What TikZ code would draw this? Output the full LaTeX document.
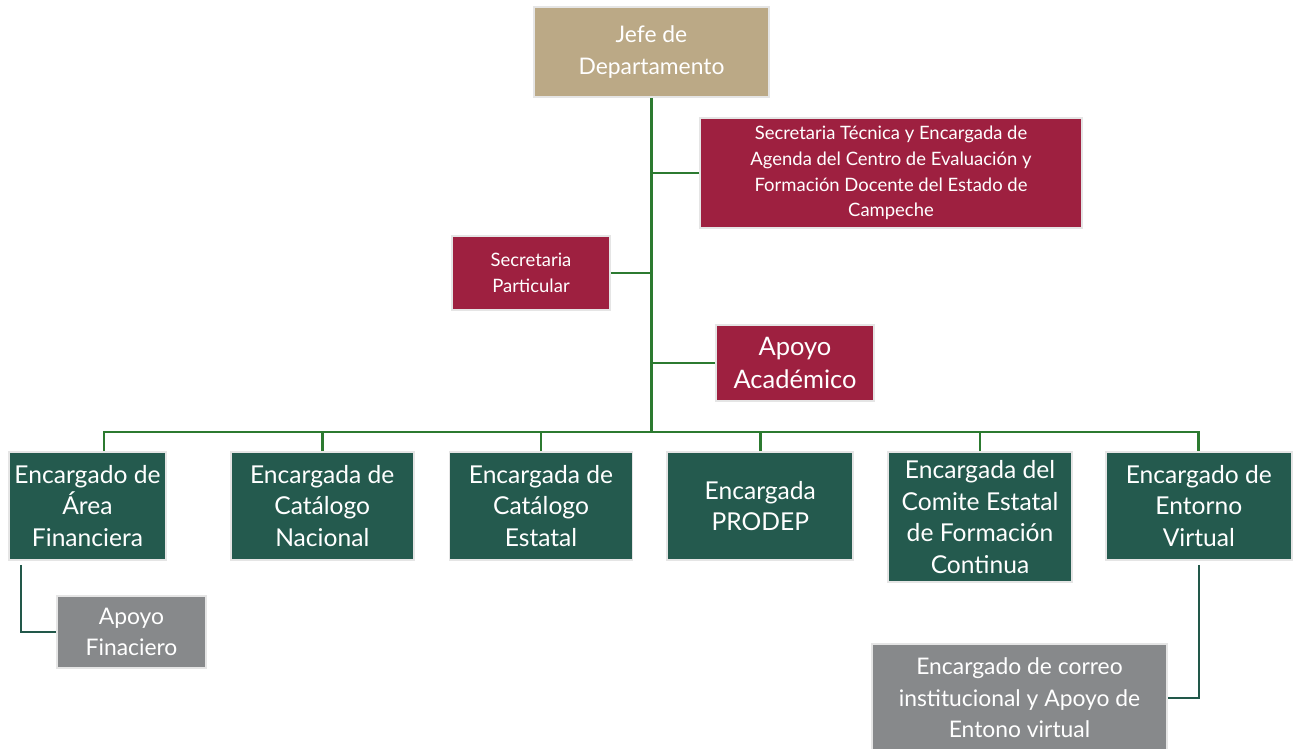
\documentclass[tikz,border=0pt]{standalone}
\usepackage{fontspec}
\setmainfont{Lato}
\usetikzlibrary{positioning}
\definecolor{cjefe}{RGB}{187,169,134}
\definecolor{cvino}{RGB}{158,32,64}
\definecolor{cverde}{RGB}{36,90,78}
\definecolor{cgris}{RGB}{135,137,139}
\definecolor{crama}{RGB}{44,122,48}
\definecolor{cramaosc}{RGB}{34,88,74}
\def\grande{\fontsize{14}{18}\selectfont}
\def\media{\fontsize{13}{18}\selectfont}
\def\chica{\fontsize{10.5}{14.7}\selectfont}
\tikzstyle{caja} = [rectangle, draw=black!10, line width=1pt, text=white, inner sep=2pt]
\tikzstyle{jefe} = [caja, fill=cjefe, minimum width=4.7cm, minimum height=1.8cm, font=\media]
\tikzstyle{secre} = [caja, fill=cvino, font=\chica]
\tikzstyle{encargo} = [caja, fill=cverde, minimum height=2.16cm, font=\grande]
\tikzstyle{apoyo} = [caja, fill=cgris, font=\media]
\tikzstyle{rama} = [draw=crama, line width=1.5pt]
\tikzstyle{ramita} = [draw=cramaosc, line width=1.3pt]

\begin{document}
\begin{tikzpicture}[align=center]
  \useasboundingbox (0,0) rectangle (26.06,-14.98);

  \node (jefe) [jefe] at (13.03,-1.04) {Jefe de\\Departamento};
  \coordinate (bus) at (jefe.south |- 0,-8.64);

  \node (sectec) [secre, minimum width=7.64cm, minimum height=2.2cm] at (17.82,-3.46)
  {Secretaria Técnica y Encargada de\\Agenda del Centro de Evaluación y\\Formación Docente del Estado de\\Campeche};
  \node (secpart) [secre, minimum width=3.16cm, minimum height=1.48cm] at (10.62,-5.46) {Secretaria\\Particular};
  \node (apoyoac) [secre, minimum width=3.16cm, minimum height=1.52cm, font=\fontsize{14.5}{19.3}\selectfont] at (15.9,-7.26) {Apoyo\\Académico};

  % fila de encargados
  \node (finan) [encargo, minimum width=3.14cm] at (1.75,-10.12) {Encargado de\\Área\\Financiera};
  \node (catnac) [encargo, minimum width=3.66cm, right=1.26cm of finan] {Encargada de\\Catálogo\\Nacional};
  \node (catest) [encargo, minimum width=3.66cm, right=0.68cm of catnac] {Encargada de\\Catálogo\\Estatal};
  \node (prodep) [encargo, minimum width=3.72cm, right=0.66cm of catest] {Encargada\\PRODEP};
  \node (comite) [encargo, minimum width=3.68cm, minimum height=2.6cm, below right=0cm and 0.66cm of prodep.north east] {Encargada del\\Comite Estatal\\de Formación\\Continua};
  \node (entorno) [encargo, minimum width=3.72cm, below right=0cm and 0.64cm of comite.north east] {Encargado de\\Entorno\\Virtual};

  \node (apfin) [apoyo, minimum width=2.98cm, minimum height=1.44cm] at (2.63,-12.64) {Apoyo\\Finaciero};
  \node (correo) [apoyo, minimum width=5.9cm, minimum height=2.16cm] at (20.39,-13.96) {Encargado de correo\\institucional y Apoyo de\\Entono virtual};

  \draw [rama] (jefe.south) -- (bus);
  \draw [rama] (sectec.west) -- (sectec.west -| bus);
  \draw [rama] (secpart.east) -- (secpart.east -| bus);
  \draw [rama] (apoyoac.west) -- (apoyoac.west -| bus);

  \draw [rama] ([xshift=0.33cm]finan.north) |- (entorno.north |- bus) -- (entorno.north);
  \foreach \n in {catnac,catest,prodep,comite}
    \draw [rama] (\n.north) -- (\n.north |- bus);

  \draw [ramita] ([xshift=0.26cm,yshift=-0.08cm]finan.south west) |- (apfin.west);
  \draw [ramita] ([yshift=-0.08cm]entorno.south) |- (correo.east);

\end{tikzpicture}
\end{document}
